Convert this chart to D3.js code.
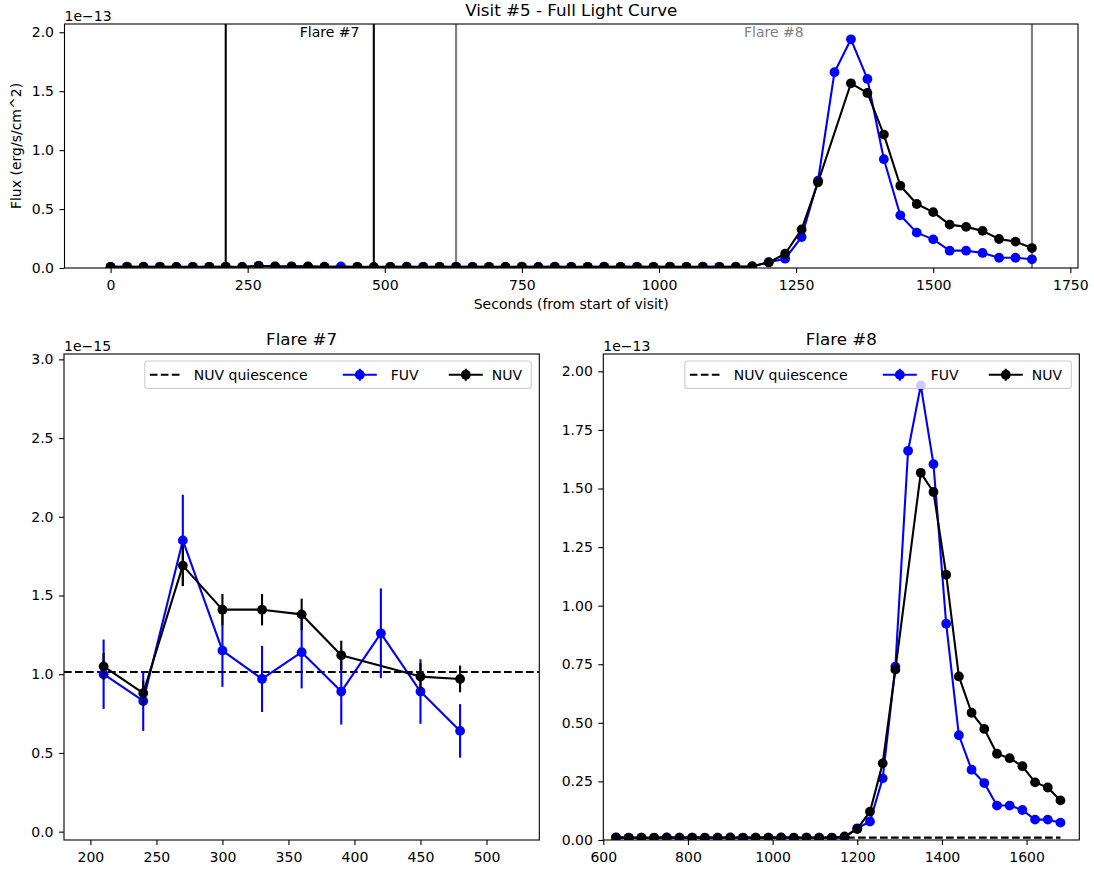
<!DOCTYPE html>
<html><head><meta charset="utf-8">
<script src="https://cdn.jsdelivr.net/npm/d3@7"></script>
<style>
body{margin:0;background:#fff}
text{font-family:"DejaVu Sans",sans-serif;fill:#000}
</style>
</head><body>
<svg id="c" width="1094" height="873"></svg>
<script>
// ---------------- DATA ----------------
const times = [0,30,60,90,120,150,180,210,240,270,300,330,360,390,420,450,480,510,540,570,600,
  630,660,690,720,750,780,810,840,870,900,930,960,990,1020,1050,1080,1110,1140,1170,
  1200,1230,1260,1290,1320,1350,1380,1410,1440,1470,1500,1530,1560,1590,1620,1650,1680];
// FUV flux (erg/s/cm^2)
const fuv = [0.95e-15,1.05e-15,0.92e-15,1.10e-15,0.98e-15,0.90e-15,1.02e-15,
  1.00e-15,0.83e-15,1.85e-15,1.15e-15,0.97e-15,1.14e-15,0.89e-15,1.26e-15,0.89e-15,0.64e-15,
  0.95e-15,1.08e-15,0.90e-15,1.03e-15,
  1.10e-15,0.94e-15,1.00e-15,0.87e-15,1.12e-15,0.98e-15,1.05e-15,0.91e-15,1.00e-15,1.07e-15,
  0.93e-15,1.02e-15,0.96e-15,1.10e-15,0.89e-15,1.04e-15,0.99e-15,0.92e-15,1.20e-15,
  0.050e-13,0.079e-13,0.263e-13,0.740e-13,1.661e-13,1.940e-13,1.604e-13,0.923e-13,0.447e-13,
  0.300e-13,0.243e-13,0.147e-13,0.147e-13,0.128e-13,0.087e-13,0.087e-13,0.074e-13];
// NUV flux (erg/s/cm^2); null = no measurement
const nuv = [1.02e-15,0.99e-15,1.05e-15,1.00e-15,0.97e-15,1.03e-15,1.01e-15,
  1.05e-15,0.88e-15,1.69e-15,1.41e-15,1.41e-15,1.38e-15,1.12e-15,null,0.985e-15,0.97e-15,
  1.00e-15,0.98e-15,1.03e-15,1.01e-15,
  1.02e-15,1.00e-15,0.99e-15,1.03e-15,1.01e-15,0.98e-15,1.00e-15,1.02e-15,0.99e-15,1.01e-15,
  1.00e-15,0.97e-15,1.02e-15,1.00e-15,0.99e-15,1.03e-15,1.01e-15,1.05e-15,1.50e-15,
  0.047e-13,0.121e-13,0.327e-13,0.727e-13,null,1.567e-13,1.485e-13,1.132e-13,0.698e-13,
  0.543e-13,0.474e-13,0.368e-13,0.349e-13,0.315e-13,0.246e-13,0.224e-13,0.169e-13];
// Flare #7 error bars (erg/s/cm^2), for times 210..480
const flare7Times = [210,240,270,300,330,360,390,420,450,480];
const flare7FuvErr = [0.22e-15,0.19e-15,0.29e-15,0.23e-15,0.21e-15,0.23e-15,0.21e-15,0.285e-15,0.205e-15,0.17e-15];
const flare7NuvErr = [0.085e-15,0.08e-15,0.13e-15,0.10e-15,0.10e-15,0.10e-15,0.093e-15,null,0.085e-15,0.085e-15];
const nuvQuiescence = 1.014e-15;
const flareNames = ["Flare #7","Flare #8"];
const flareStarts = [210,630];
const flareEnds = [480,1680];
const flareColors = ["#000000","#7f7f7f"];
const topXTicks = [0,250,500,750,1000,1250,1500,1750];
const topYTicks = [0,0.5e-13,1.0e-13,1.5e-13,2.0e-13];
const f7XTicks = [200,250,300,350,400,450,500];
const f7YTicks = [0,0.5e-15,1.0e-15,1.5e-15,2.0e-15,2.5e-15,3.0e-15];
const f8XTicks = [600,800,1000,1200,1400,1600];
const f8YTicks = [0,0.25e-13,0.5e-13,0.75e-13,1.0e-13,1.25e-13,1.5e-13,1.75e-13,2.0e-13];
const legendLabels = ["NUV quiescence","FUV","NUV"];
const FUVC = "#0000ff", NUVC = "#000000";

// ---------------- DRAW ----------------
const svg = d3.select("#c");
const FS = 14;
let clipId = 0;

function panel(o){
  const x = d3.scaleLinear().domain(o.xdom).range([o.x0,o.x1]);
  const y = d3.scaleLinear().domain(o.ydom).range([o.y1,o.y0]);
  const g = svg.append("g");
  const id = "clip"+(clipId++);
  svg.append("clipPath").attr("id",id).append("rect")
    .attr("x",o.x0).attr("y",o.y0).attr("width",o.x1-o.x0).attr("height",o.y1-o.y0);
  const xa = g.append("g").attr("transform",`translate(0,${o.y1})`)
    .call(d3.axisBottom(x).tickValues(o.xticks).tickSize(5).tickSizeOuter(0).tickPadding(7.5).tickFormat(d3.format("d")));
  const ya = g.append("g").attr("transform",`translate(${o.x0},0)`)
    .call(d3.axisLeft(y).tickValues(o.yticks).tickSize(5).tickSizeOuter(0).tickPadding(5.5).tickFormat(o.yfmt));
  [xa,ya].forEach(a=>{
    a.select(".domain").remove();
    a.selectAll("line").attr("stroke","#000").attr("stroke-width",1.1);
    a.selectAll("text").attr("font-size",FS).attr("font-family","DejaVu Sans").attr("fill","#000");
  });
  g.append("text").attr("x",o.x0).attr("y",o.y0-3).attr("font-size",FS).text(o.exp);
  const plot = g.append("g").attr("clip-path",`url(#${id})`);
  return {g,plot,x,y,o};
}
function frame(p){
  p.g.append("rect").attr("x",p.o.x0).attr("y",p.o.y0).attr("width",p.o.x1-p.o.x0).attr("height",p.o.y1-p.o.y0)
    .attr("fill","none").attr("stroke","#000").attr("stroke-width",1.1);
}
function series(p, xs, ys, color, errs){
  const pts = xs.map((t,i)=>({t, v:ys[i], e: errs?errs[i]:null})).filter(d=>d.v!==null);
  if(errs){
    p.plot.selectAll(null).data(pts.filter(d=>d.e!==null)).enter().append("line")
      .attr("x1",d=>p.x(d.t)).attr("x2",d=>p.x(d.t))
      .attr("y1",d=>p.y(d.v-d.e)).attr("y2",d=>p.y(d.v+d.e))
      .attr("stroke",color).attr("stroke-width",2.1);
  }
  p.plot.append("path").datum(pts)
    .attr("d",d3.line().x(d=>p.x(d.t)).y(d=>p.y(d.v)))
    .attr("fill","none").attr("stroke",color).attr("stroke-width",2.1).attr("stroke-linejoin","round");
  p.plot.selectAll(null).data(pts).enter().append("circle")
    .attr("cx",d=>p.x(d.t)).attr("cy",d=>p.y(d.v)).attr("r",4.9).attr("fill",color);
}
function legend(p){
  const bw=386.5, bh=27.5;
  const bx = p.o.x1-8-bw, by = p.o.y0+7, cy = by+bh/2;
  const lg = p.g.append("g");
  lg.append("rect").attr("x",bx).attr("y",by).attr("width",bw).attr("height",bh).attr("rx",3)
    .attr("fill","#fff").attr("fill-opacity",0.8).attr("stroke","#cccccc").attr("stroke-width",1.1);
  lg.append("line").attr("x1",bx+5).attr("x2",bx+37).attr("y1",cy).attr("y2",cy)
    .attr("stroke","#000").attr("stroke-width",2.1).attr("stroke-dasharray","7.7,3.3");
  const items=[[5,49],[198,246],[304,347]];
  [null,FUVC,NUVC].forEach((c,i)=>{
    if(c){
      const a=bx+items[i][0], m=a+17;
      lg.append("line").attr("x1",a).attr("x2",a+34).attr("y1",cy).attr("y2",cy).attr("stroke",c).attr("stroke-width",2.1);
      lg.append("line").attr("x1",m).attr("x2",m).attr("y1",cy-6).attr("y2",cy+6).attr("stroke",c).attr("stroke-width",2.1);
      lg.append("circle").attr("cx",m).attr("cy",cy).attr("r",4.9).attr("fill",c);
    }
    lg.append("text").attr("x",bx+items[i][1]).attr("y",cy+5).attr("font-size",FS).text(legendLabels[i]);
  });
}
const fmt1 = e => (v => (v/e).toFixed(1));
const fmt2 = e => (v => (v/e).toFixed(2));

// ---- Top panel ----
const pTop = panel({x0:64.5,x1:1078,y0:24,y1:268,xdom:[-84,1764],ydom:[0,2.07e-13],
  xticks:topXTicks,yticks:topYTicks,yfmt:fmt1(1e-13),exp:"1e\u221213"});
flareNames.forEach((n,i)=>{
  [flareStarts[i],flareEnds[i]].forEach(t=>{
    pTop.plot.append("line").attr("x1",pTop.x(t)).attr("x2",pTop.x(t)).attr("y1",24).attr("y2",268)
      .attr("stroke",flareColors[i]).attr("stroke-width",2.1);
  });
  pTop.g.append("text").attr("x",pTop.x((flareStarts[i]+flareEnds[i])/2)).attr("y",pTop.y(2.0e-13)+5)
    .attr("font-size",FS).style("fill",flareColors[i]).text(n);
});
series(pTop, times, fuv, FUVC);
series(pTop, times, nuv, NUVC);
frame(pTop);
pTop.g.append("text").attr("x",(64.5+1078)/2).attr("y",16).attr("text-anchor","middle").attr("font-size",16.7).text("Visit #5 - Full Light Curve");
pTop.g.append("text").attr("x",(64.5+1078)/2).attr("y",309).attr("text-anchor","middle").attr("font-size",FS).text("Seconds (from start of visit)");
pTop.g.append("text").attr("transform",`translate(21,146) rotate(-90)`).attr("text-anchor","middle").attr("font-size",FS).text("Flux (erg/s/cm^2)");

// ---- Flare #7 ----
const p7 = panel({x0:64,x1:539.3,y0:354,y1:840,xdom:[180,540],ydom:[-0.053e-15,3.034e-15],
  xticks:f7XTicks,yticks:f7YTicks,yfmt:fmt1(1e-15),exp:"1e\u221215"});
p7.plot.append("line").attr("x1",p7.x(180)).attr("x2",p7.x(540)).attr("y1",p7.y(nuvQuiescence)).attr("y2",p7.y(nuvQuiescence))
  .attr("stroke","#000").attr("stroke-width",2.1).attr("stroke-dasharray","7.7,3.3");
const f7idx = flare7Times.map(t=>times.indexOf(t));
series(p7, flare7Times, f7idx.map(i=>fuv[i]), FUVC, flare7FuvErr);
series(p7, flare7Times, f7idx.map(i=>nuv[i]), NUVC, flare7NuvErr);
legend(p7);
frame(p7);
p7.g.append("text").attr("x",(64+539.3)/2).attr("y",345).attr("text-anchor","middle").attr("font-size",16.7).text(flareNames[0]);

// ---- Flare #8 ----
const p8 = panel({x0:603.3,x1:1079.3,y0:354,y1:840,xdom:[600,1724.5],ydom:[0,2.074e-13],
  xticks:f8XTicks,yticks:f8YTicks,yfmt:fmt2(1e-13),exp:"1e\u221213"});
p8.plot.append("line").attr("x1",p8.x(flareStarts[1])).attr("x2",p8.x(flareEnds[1])).attr("y1",p8.y(nuvQuiescence)).attr("y2",p8.y(nuvQuiescence))
  .attr("stroke","#000").attr("stroke-width",2.1).attr("stroke-dasharray","7.7,3.3");
const f8t = times.filter(t=>t>=flareStarts[1] && t<=flareEnds[1]);
const f8idx = f8t.map(t=>times.indexOf(t));
series(p8, f8t, f8idx.map(i=>fuv[i]), FUVC);
series(p8, f8t, f8idx.map(i=>nuv[i]), NUVC);
legend(p8);
frame(p8);
p8.g.append("text").attr("x",(603.3+1079.3)/2).attr("y",345).attr("text-anchor","middle").attr("font-size",16.7).text(flareNames[1]);
</script>
</body></html>
